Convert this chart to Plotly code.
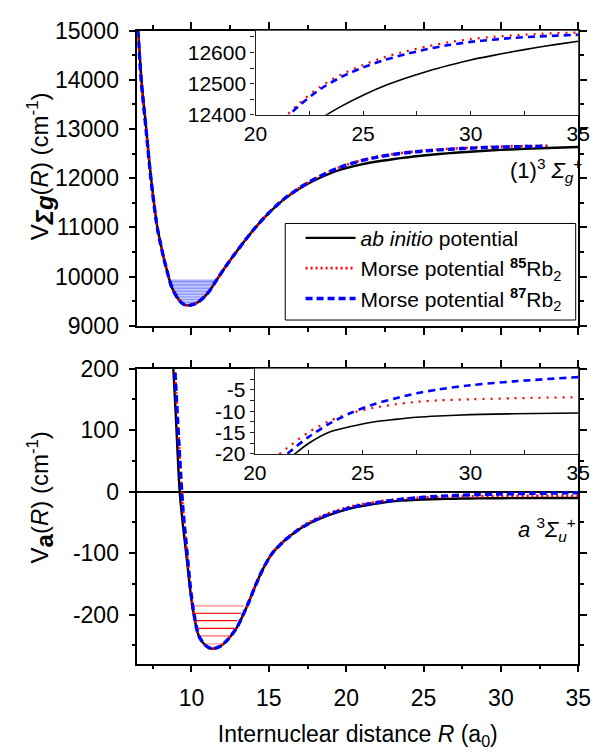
import plotly.graph_objects as go

FONT = "Liberation Sans, Arial, sans-serif"

# ---- (1)^3Σg+ state : internuclear distance (a0) and potentials (cm^-1) ----
R_G = [6.45, 6.56, 6.77, 7.08, 7.39, 7.80, 8.20, 8.52, 8.70, 8.90, 9.10, 9.30,
       9.50, 9.75, 10.0, 10.3, 10.6, 10.9, 11.2, 11.62, 12.2, 12.86, 13.9,
       14.93, 15.96, 17.0, 18.0, 19.0, 20.0, 21.0, 22.0, 23.0, 24.0, 25.0,
       26.0, 27.0, 28.0, 29.0, 30.0, 31.0, 32.0, 33.0, 34.0, 35.0]
V_G_AB = [15600, 15000, 14000, 13000, 12000, 11000, 10400, 10000, 9807, 9672,
          9565, 9487, 9437, 9415, 9424, 9459, 9521, 9609, 9723, 9928, 10200,
          10486, 10910, 11270, 11566, 11793, 11965, 12105, 12205, 12283, 12340,
          12387, 12428, 12463, 12493, 12518, 12540, 12559, 12576, 12590, 12603,
          12615, 12626, 12636]
V_G_85 = [15450, 14880, 13920, 12950, 11960, 10980, 10390, 10000, 9807, 9672,
          9565, 9487, 9437, 9415, 9424, 9459, 9521, 9609, 9723, 9928, 10200,
          10486, 10910, 11275, 11575, 11810, 11995, 12150, 12270, 12365, 12435,
          12490, 12530, 12560, 12585, 12604, 12620, 12633, 12643, 12650, 12655,
          12659, 12662, 12664]
V_G_87 = [15450, 14880, 13920, 12950, 11960, 10980, 10390, 10000, 9807, 9672,
          9565, 9487, 9437, 9415, 9424, 9459, 9521, 9609, 9723, 9928, 10200,
          10486, 10910, 11274, 11573, 11808, 11990, 12145, 12265, 12358, 12428,
          12482, 12522, 12552, 12576, 12595, 12611, 12624, 12634, 12641, 12647,
          12651, 12654, 12657]

# vibrational levels of the (1)^3Σg+ well (cm^-1) and their turning points (a0)
E_G_LEV = [9438, 9471, 9504, 9537, 9569, 9601, 9633, 9664, 9695, 9726, 9756,
           9786, 9815, 9844, 9873, 9901, 9928]
R_G_IN = [9.50, 9.35, 9.25, 9.16, 9.09, 9.03, 8.97, 8.91, 8.86, 8.82, 8.77,
          8.73, 8.69, 8.65, 8.62, 8.58, 8.55]
R_G_OUT = [10.15, 10.37, 10.53, 10.66, 10.78, 10.88, 10.97, 11.05, 11.13,
           11.21, 11.28, 11.34, 11.40, 11.46, 11.52, 11.57, 11.62]

# ---- a^3Σu+ state ----
R_A = [8.70, 8.83, 9.00, 9.24, 9.45, 9.66, 9.97, 10.17, 10.48, 10.90, 11.31,
       11.83, 12.34, 12.96, 13.31, 13.70, 14.10, 14.60, 15.20, 16.0, 16.8,
       17.6, 18.5, 19.5, 20.5, 21.5, 22.5, 23.5, 24.5, 25.5, 26.5, 27.5, 28.5,
       30.0, 32.0, 35.0]
V_A_AB = [262, 200, 118, 0, -55, -101, -170, -203, -235, -250, -255.5, -252,
          -241, -220, -202, -180, -155, -127, -101, -80, -64, -52, -42, -33,
          -26, -21.5, -17.5, -14.8, -13.5, -12.5, -11.9, -11.4, -11.1, -10.8,
          -10.6, -10.4]
V_A_85 = [300, 248, 165, 55, -29, -85, -165, -200, -235, -250, -255.5, -252,
          -241, -220, -202, -180, -155, -127, -101, -80, -63, -50, -39, -30,
          -23, -18.6, -14.9, -12.2, -10.4, -9.2, -8.4, -7.8, -7.45, -7.2,
          -6.95, -6.7]
V_A_87 = [300, 248, 165, 55, -29, -85, -165, -200, -235, -250, -255.5, -252,
          -241, -220, -202, -180, -155, -127, -101, -80, -64, -52, -41, -32,
          -25, -20, -16, -12.8, -10.3, -8.4, -7.0, -5.8, -4.9, -3.9, -3.0,
          -2.0]

# vibrational levels of the a^3Σu+ well
E_A_LEV = [-186, -198, -210, -222.5, -234.6, -247.6]
R_A_IN = [10.18, 10.24, 10.32, 10.42, 10.63, 10.90]
R_A_OUT = [13.38, 13.21, 12.96, 12.76, 12.45, 12.10]

# axis ticks
X_TICKS = [10, 15, 20, 25, 30, 35]
Y_G_TICKS = [9000, 10000, 11000, 12000, 13000, 14000, 15000]
Y_A_TICKS = [-200, -100, 0, 100, 200]
Y_G_INSET_TICKS = [12400, 12500, 12600]
Y_A_INSET_TICKS = [-20, -15, -10, -5]
X_INSET_TICKS = [20, 25, 30, 35]

NAMES = ["<i>ab initio</i> potential",
         "Morse potential <sup><b>85</b></sup>Rb<sub>2</sub>",
         "Morse potential <sup><b>87</b></sup>Rb<sub>2</sub>"]

MORSE_MAIN_RMAX = 33.5  # Morse curves in the upper main panel stop here


def label(v):
    # plain hyphen-minus for negative tick labels
    return str(v)


fig = go.Figure()

# level ladders (drawn first so the potential curves sit on top)
for e, r1, r2 in zip(E_G_LEV, R_G_IN, R_G_OUT):
    fig.add_trace(go.Scatter(x=[r1, r2], y=[e, e], mode="lines",
                             line=dict(color="rgba(40,60,255,0.6)", width=1),
                             showlegend=False, hoverinfo="skip",
                             xaxis="x", yaxis="y"))
a_cols = ["rgba(240,110,110,0.85)", "rgba(255,30,30,1)", "rgba(255,0,0,1)",
          "rgba(255,0,0,1)", "rgba(255,80,80,0.9)", "rgba(245,150,150,0.9)"]
for e, r1, r2, c in zip(E_A_LEV, R_A_IN, R_A_OUT, a_cols):
    fig.add_trace(go.Scatter(x=[r1, r2], y=[e, e], mode="lines",
                             line=dict(color=c, width=1.3),
                             showlegend=False, hoverinfo="skip",
                             xaxis="x2", yaxis="y2"))

styles_main = [dict(color="black", width=2.4, dash="solid"),
               dict(color="red", width=2.6, dash="2px,3px"),
               dict(color="blue", width=3.4, dash="7px,4px")]
styles_inset = [dict(color="black", width=1.6, dash="solid"),
                dict(color="red", width=2.2, dash="2px,6px"),
                dict(color="blue", width=2.6, dash="7px,5px")]


def cut(rs, vs, rmax):
    pairs = [(r, v) for r, v in zip(rs, vs) if r <= rmax]
    return [p[0] for p in pairs], [p[1] for p in pairs]


# upper panel curves + legend
for i, vs in enumerate([V_G_AB, V_G_85, V_G_87]):
    rs, vv = (R_G, vs) if i == 0 else cut(R_G, vs, MORSE_MAIN_RMAX)
    fig.add_trace(go.Scatter(x=rs, y=vv, mode="lines", name=NAMES[i],
                             line=dict(shape="spline", smoothing=0.8,
                                       **styles_main[i]),
                             showlegend=True, xaxis="x", yaxis="y"))
# lower panel curves
for i, vs in enumerate([V_A_AB, V_A_85, V_A_87]):
    fig.add_trace(go.Scatter(x=R_A, y=vs, mode="lines",
                             line=dict(shape="spline", smoothing=0.8,
                                       **styles_main[i]),
                             showlegend=False, xaxis="x2", yaxis="y2"))
# insets
for i, vs in enumerate([V_G_AB, V_G_85, V_G_87]):
    fig.add_trace(go.Scatter(x=R_G, y=vs, mode="lines",
                             line=dict(shape="spline", smoothing=0.8,
                                       **styles_inset[i]),
                             showlegend=False, xaxis="x3", yaxis="y3"))
for i, vs in enumerate([V_A_AB, V_A_85, V_A_87]):
    fig.add_trace(go.Scatter(x=R_A, y=vs, mode="lines",
                             line=dict(shape="spline", smoothing=0.8,
                                       **styles_inset[i]),
                             showlegend=False, xaxis="x4", yaxis="y4"))

W, H = 605, 753
XL, XR = 130.7 / W, 590.7 / W


def py(p):
    return 1 - p / H


main_ax = dict(showline=True, linecolor="black", linewidth=1.5,
               ticks="outside", tickcolor="black", tickwidth=1.5, ticklen=7,
               mirror="ticks", showgrid=False, zeroline=False,
               tickfont=dict(size=23, family=FONT, color="black"))
main_minor = dict(ticks="outside", ticklen=4, tickcolor="black", tickwidth=1.5)
inset_ax = dict(showline=True, linecolor="#222", linewidth=1.3,
                showgrid=False, zeroline=False, tickcolor="#222",
                tickwidth=1.2, ticklen=4,
                tickfont=dict(size=21, family=FONT, color="black"))
inset_minor = dict(ticklen=4, tickcolor="#222", tickwidth=1.2)

fig.update_layout(
    width=W, height=H, margin=dict(l=0, r=0, t=0, b=0),
    paper_bgcolor="white", plot_bgcolor="white",
    font=dict(family=FONT, color="black"),
    xaxis=dict(main_ax, domain=[XL, XR], anchor="y", range=[6.5, 35],
               tickvals=X_TICKS, showticklabels=False,
               minor=dict(main_minor, dtick=2.5, tick0=0)),
    yaxis=dict(main_ax, domain=[py(324), py(18.3)], anchor="x",
               range=[9000, 15000], tickvals=Y_G_TICKS,
               ticktext=[label(v) for v in Y_G_TICKS], ticklabelstandoff=5,
               minor=dict(main_minor, dtick=500, tick0=0)),
    xaxis2=dict(main_ax, domain=[XL, XR], anchor="y2", range=[6.5, 35],
                tickvals=X_TICKS, ticktext=[label(v) for v in X_TICKS],
                ticklabelstandoff=6,
                minor=dict(main_minor, dtick=2.5, tick0=0),
                title=dict(text="Internuclear distance <i>R</i> (a<sub>0</sub>)",
                           font=dict(size=23, family=FONT), standoff=16)),
    yaxis2=dict(main_ax, domain=[py(674), py(368.3)], anchor="x2",
                range=[-280, 200], tickvals=Y_A_TICKS,
                ticktext=[label(v) for v in Y_A_TICKS], ticklabelstandoff=5,
                minor=dict(main_minor, dtick=50, tick0=0),
                zeroline=True, zerolinecolor="black", zerolinewidth=2.2),
    xaxis3=dict(inset_ax, domain=[254 / W, XR], anchor="y3", range=[20, 35],
                tickvals=X_INSET_TICKS,
                ticktext=[label(v) for v in X_INSET_TICKS], ticks="inside",
                minor=dict(inset_minor, ticks="inside", dtick=2.5)),
    yaxis3=dict(inset_ax, domain=[py(105.5), py(18.3)], anchor="x3",
                range=[12400, 12670], tickvals=Y_G_INSET_TICKS,
                ticktext=[label(v) for v in Y_G_INSET_TICKS],
                ticks="outside",
                minor=dict(inset_minor, ticks="outside", dtick=50)),
    xaxis4=dict(inset_ax, domain=[253.3 / W, XR], anchor="y4", range=[20, 35],
                tickvals=X_INSET_TICKS,
                ticktext=[label(v) for v in X_INSET_TICKS], ticks="inside",
                minor=dict(inset_minor, ticks="inside", dtick=2.5)),
    yaxis4=dict(inset_ax, domain=[py(456.7), py(368.3)], anchor="x4",
                range=[-20, 0], tickvals=Y_A_INSET_TICKS,
                ticktext=[label(v) for v in Y_A_INSET_TICKS],
                ticks="outside",
                minor=dict(inset_minor, ticks="outside", dtick=2.5)),
    legend=dict(x=301 / W, xanchor="left", y=py(212), yanchor="top",
                bgcolor="rgba(0,0,0,0)", borderwidth=0,
                font=dict(size=21, family=FONT, color="black"),
                itemwidth=50, tracegroupgap=0),
)

# legend frame
fig.add_shape(type="rect", xref="paper", yref="paper",
              x0=285 / W, x1=588 / W, y0=py(318), y1=py(218),
              line=dict(color="black", width=1), fillcolor="white",
              layer="below")

annots = [
    dict(text="V<sub><span style='font-size:24px'><b><i>Σg</i></b></span></sub>"
              "(<i>R</i>) (cm<sup>-1</sup>)",
         x=30 / W, y=py(159), textangle=-90, font=dict(size=24),
         xanchor="center", yanchor="middle"),
    dict(text="V<sub><span style='font-size:24px'><b>a</b></span></sub>"
              "(<i>R</i>) (cm<sup>-1</sup>)",
         x=30 / W, y=py(502), textangle=-90, font=dict(size=24),
         xanchor="center", yanchor="middle"),
    dict(text="(1)<sup>3</sup> <i>Σ<sub>g</sub></i><sup>+</sup>",
         x=597 / W, y=py(163), xanchor="right", yanchor="middle",
         font=dict(size=22)),
    dict(text="<i>a</i> <sup>3</sup><i>Σ<sub>u</sub></i><sup>+</sup>",
         x=590 / W, y=py(535), xanchor="right", yanchor="middle",
         font=dict(size=22)),
]
for a in annots:
    a.update(xref="paper", yref="paper", showarrow=False)
    a["font"] = dict(a["font"], family=FONT, color="black")
    fig.add_annotation(**a)

fig.write_html("out.html")
